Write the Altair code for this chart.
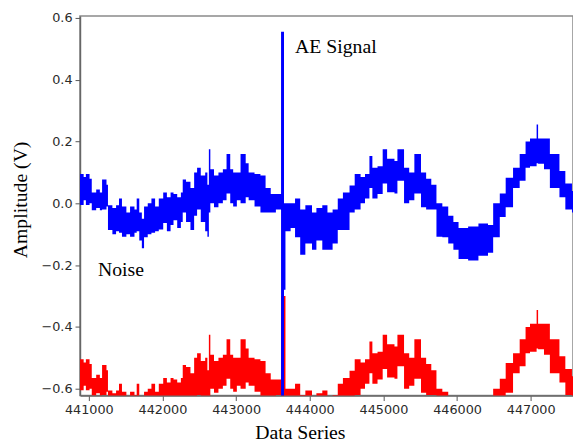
import altair as alt
import pandas as pd

# sample positions (Data Series) and envelope of each channel (V)
sample_x = [440880, 440930, 440960, 441010, 441040, 441100, 441150, 441180, 441240, 441260,
            441320, 441370, 441410, 441450, 441510, 441560, 441620, 441650, 441685, 441720,
            441750, 441800, 441850, 441900, 441950, 442010, 442060, 442110, 442150, 442200,
            442250, 442275, 442320, 442380, 442430, 442470, 442520, 442580, 442610, 442630,
            442650, 442700, 442760, 442820, 442870, 442920, 442960, 443010, 443060, 443130,
            443170, 443250, 443330, 443400, 443470, 443540, 443610, 443650, 443670, 443740,
            443800, 443870, 443940, 444030, 444090, 444170, 444240, 444310, 444380, 444450,
            444540, 444610, 444690, 444750, 444810, 444850, 444920, 444990, 445050, 445150,
            445190, 445280, 445350, 445420, 445510, 445580, 445650, 445720, 445800, 445880,
            445950, 446020, 446150, 446290, 446420, 446490, 446580, 446660, 446760, 446850,
            446930, 446990, 447080, 447100, 447180, 447260, 447390, 447470, 447560, 447580]

blue_hi = [0.095, 0.085, 0.095, 0.080, 0.035, 0.045, 0.035, 0.077, 0.060, -0.006,
           -0.015, -0.006, 0.016, -0.010, -0.030, -0.010, -0.020, 0.016, -0.030, -0.050,
           -0.010, 0.000, 0.016, -0.010, 0.016, 0.035, 0.020, 0.035, 0.030, 0.020,
           0.035, 0.077, 0.070, 0.050, 0.100, 0.115, 0.090, 0.100, 0.060, 0.175,
           0.110, 0.090, 0.100, 0.110, 0.160, 0.110, 0.100, 0.100, 0.160, 0.130,
           0.100, 0.095, 0.090, 0.050, 0.030, 0.030, 0.555, 0.000, 0.000, 0.000,
           0.016, -0.020, -0.006, -0.030, -0.015, -0.006, -0.030, -0.020, 0.016, 0.035,
           0.058, 0.095, 0.085, 0.095, 0.153, 0.115, 0.120, 0.175, 0.144, 0.137,
           0.175, 0.115, 0.100, 0.160, 0.100, 0.080, 0.060, 0.000, -0.010, -0.040,
           -0.060, -0.080, -0.075, -0.065, -0.070, 0.000, 0.032, 0.083, 0.115, 0.160,
           0.200, 0.210, 0.255, 0.210, 0.210, 0.160, 0.105, 0.064, 0.040, 0.040]

blue_lo = [-0.005, 0.010, -0.005, 0.000, -0.022, -0.015, -0.022, -0.020, -0.010, -0.086,
           -0.100, -0.090, -0.095, -0.108, -0.100, -0.108, -0.095, -0.090, -0.120, -0.145,
           -0.110, -0.100, -0.095, -0.090, -0.085, -0.064, -0.090, -0.070, -0.055, -0.080,
           -0.060, -0.030, -0.060, -0.086, -0.040, -0.020, -0.060, -0.090, -0.108, -0.030,
           0.000, -0.013, 0.000, 0.010, 0.032, 0.000, -0.010, 0.010, 0.000, 0.020,
           0.010, -0.010, -0.030, -0.030, -0.030, -0.020, -0.650, -0.280, -0.090, -0.080,
           -0.110, -0.166, -0.130, -0.150, -0.120, -0.150, -0.150, -0.130, -0.086, -0.086,
           -0.030, -0.020, 0.000, 0.016, 0.050, 0.016, 0.030, 0.064, 0.036, 0.032,
           0.073, 0.000, 0.010, 0.032, -0.013, -0.020, -0.020, -0.108, -0.110, -0.130,
           -0.150, -0.180, -0.185, -0.170, -0.160, -0.110, -0.044, -0.013, 0.050, 0.073,
           0.115, 0.120, 0.130, 0.128, 0.110, 0.050, 0.020, -0.020, -0.030, -0.030]

red_hi = [-0.505, -0.515, -0.505, -0.520, -0.565, -0.555, -0.565, -0.523, -0.540, -0.606,
          -0.615, -0.606, -0.584, -0.610, -0.630, -0.610, -0.620, -0.584, -0.630, -0.650,
          -0.610, -0.600, -0.584, -0.610, -0.584, -0.565, -0.580, -0.565, -0.570, -0.580,
          -0.565, -0.523, -0.530, -0.550, -0.500, -0.485, -0.510, -0.500, -0.540, -0.425,
          -0.490, -0.510, -0.500, -0.490, -0.440, -0.490, -0.500, -0.500, -0.440, -0.470,
          -0.500, -0.505, -0.510, -0.550, -0.570, -0.570, -0.300, -0.300, -0.600, -0.600,
          -0.584, -0.620, -0.606, -0.630, -0.615, -0.606, -0.630, -0.620, -0.584, -0.565,
          -0.542, -0.505, -0.515, -0.505, -0.447, -0.485, -0.480, -0.425, -0.456, -0.463,
          -0.425, -0.485, -0.500, -0.440, -0.500, -0.520, -0.540, -0.600, -0.610, -0.640,
          -0.660, -0.680, -0.675, -0.665, -0.670, -0.600, -0.568, -0.517, -0.485, -0.440,
          -0.400, -0.390, -0.345, -0.390, -0.390, -0.440, -0.495, -0.536, -0.560, -0.560]

red_lo = [-0.605, -0.590, -0.605, -0.600, -0.622, -0.615, -0.622, -0.620, -0.610, -0.686,
          -0.700, -0.690, -0.695, -0.708, -0.700, -0.708, -0.695, -0.690, -0.720, -0.745,
          -0.710, -0.700, -0.695, -0.690, -0.685, -0.664, -0.690, -0.670, -0.655, -0.680,
          -0.660, -0.630, -0.660, -0.686, -0.640, -0.620, -0.660, -0.690, -0.708, -0.630,
          -0.600, -0.613, -0.600, -0.590, -0.568, -0.600, -0.610, -0.590, -0.600, -0.580,
          -0.590, -0.610, -0.630, -0.630, -0.630, -0.620, -0.650, -0.880, -0.690, -0.680,
          -0.710, -0.766, -0.730, -0.750, -0.720, -0.750, -0.750, -0.730, -0.686, -0.686,
          -0.630, -0.620, -0.600, -0.584, -0.550, -0.584, -0.570, -0.536, -0.564, -0.568,
          -0.527, -0.600, -0.590, -0.568, -0.613, -0.620, -0.620, -0.708, -0.710, -0.730,
          -0.750, -0.780, -0.785, -0.770, -0.760, -0.710, -0.644, -0.613, -0.550, -0.527,
          -0.485, -0.480, -0.470, -0.472, -0.490, -0.550, -0.580, -0.620, -0.630, -0.630]

x_ticks = [441000, 442000, 443000, 444000, 445000, 446000, 447000]
y_ticks = [-0.6, -0.4, -0.2, 0.0, 0.2, 0.4, 0.6]

labels = ["AE Signal", "Noise"]
label_x = [443800, 441125]
label_y = [0.486, -0.236]

X_DOMAIN = [440880, 447574]
Y_DOMAIN = [-0.6223, 0.6064]

blue_df = pd.DataFrame({"x": sample_x, "hi": blue_hi, "lo": blue_lo})
red_df = pd.DataFrame({"x": sample_x, "hi": red_hi, "lo": red_lo})
text_df = pd.DataFrame({"x": label_x, "y": label_y, "t": labels})

x_enc = alt.X(
    "x:Q",
    scale=alt.Scale(domain=X_DOMAIN, nice=False, zero=False),
    axis=alt.Axis(
        values=x_ticks, format="d", title="Data Series",
        titleX=223, titleY=44, titleAlign="center", titleBaseline="alphabetic",
    ),
)
y_enc_kwargs = dict(
    scale=alt.Scale(domain=Y_DOMAIN, nice=False, zero=False),
    axis=alt.Axis(
        values=y_ticks, format=".1f", title="Amplitude (V)",
        titleAngle=270, titleX=-54, titleY=186, titleAlign="center",
        titleBaseline="alphabetic",
    ),
)

red = alt.Chart(red_df).mark_area(
    interpolate="step-after", color="#ff0000", clip=True
).encode(x=x_enc, y=alt.Y("hi:Q", **y_enc_kwargs), y2="lo:Q")

blue = alt.Chart(blue_df).mark_area(
    interpolate="step-after", color="#0000ff", clip=True
).encode(x=x_enc, y=alt.Y("hi:Q", **y_enc_kwargs), y2="lo:Q")

text = alt.Chart(text_df).mark_text(
    font="Liberation Serif", fontSize=20, align="left", baseline="alphabetic", color="#000000"
).encode(x="x:Q", y="y:Q", text="t:N")

chart = (
    alt.layer(red, blue, text)
    .properties(
        width=500, height=385,
        autosize=alt.AutoSizeParams(type="none"),
        padding={"left": 73, "top": 5, "right": 0, "bottom": 48},
        background="white",
    )
    .configure_view(stroke="#8a8a8a", strokeWidth=1.5)
    .configure_axis(
        grid=False,
        labelFont="DejaVu Sans", labelFontSize=13, labelColor="#2a2a2a",
        tickColor="#555555", tickSize=5, tickWidth=1,
        domainColor="#666666", domainWidth=1.5,
        labelPadding=3,
        titleFont="Liberation Serif", titleFontSize=20, titleFontWeight="normal",
        titleColor="#000000",
    )
)

chart.save("out.html", embed_options={"renderer": "svg", "actions": False})
